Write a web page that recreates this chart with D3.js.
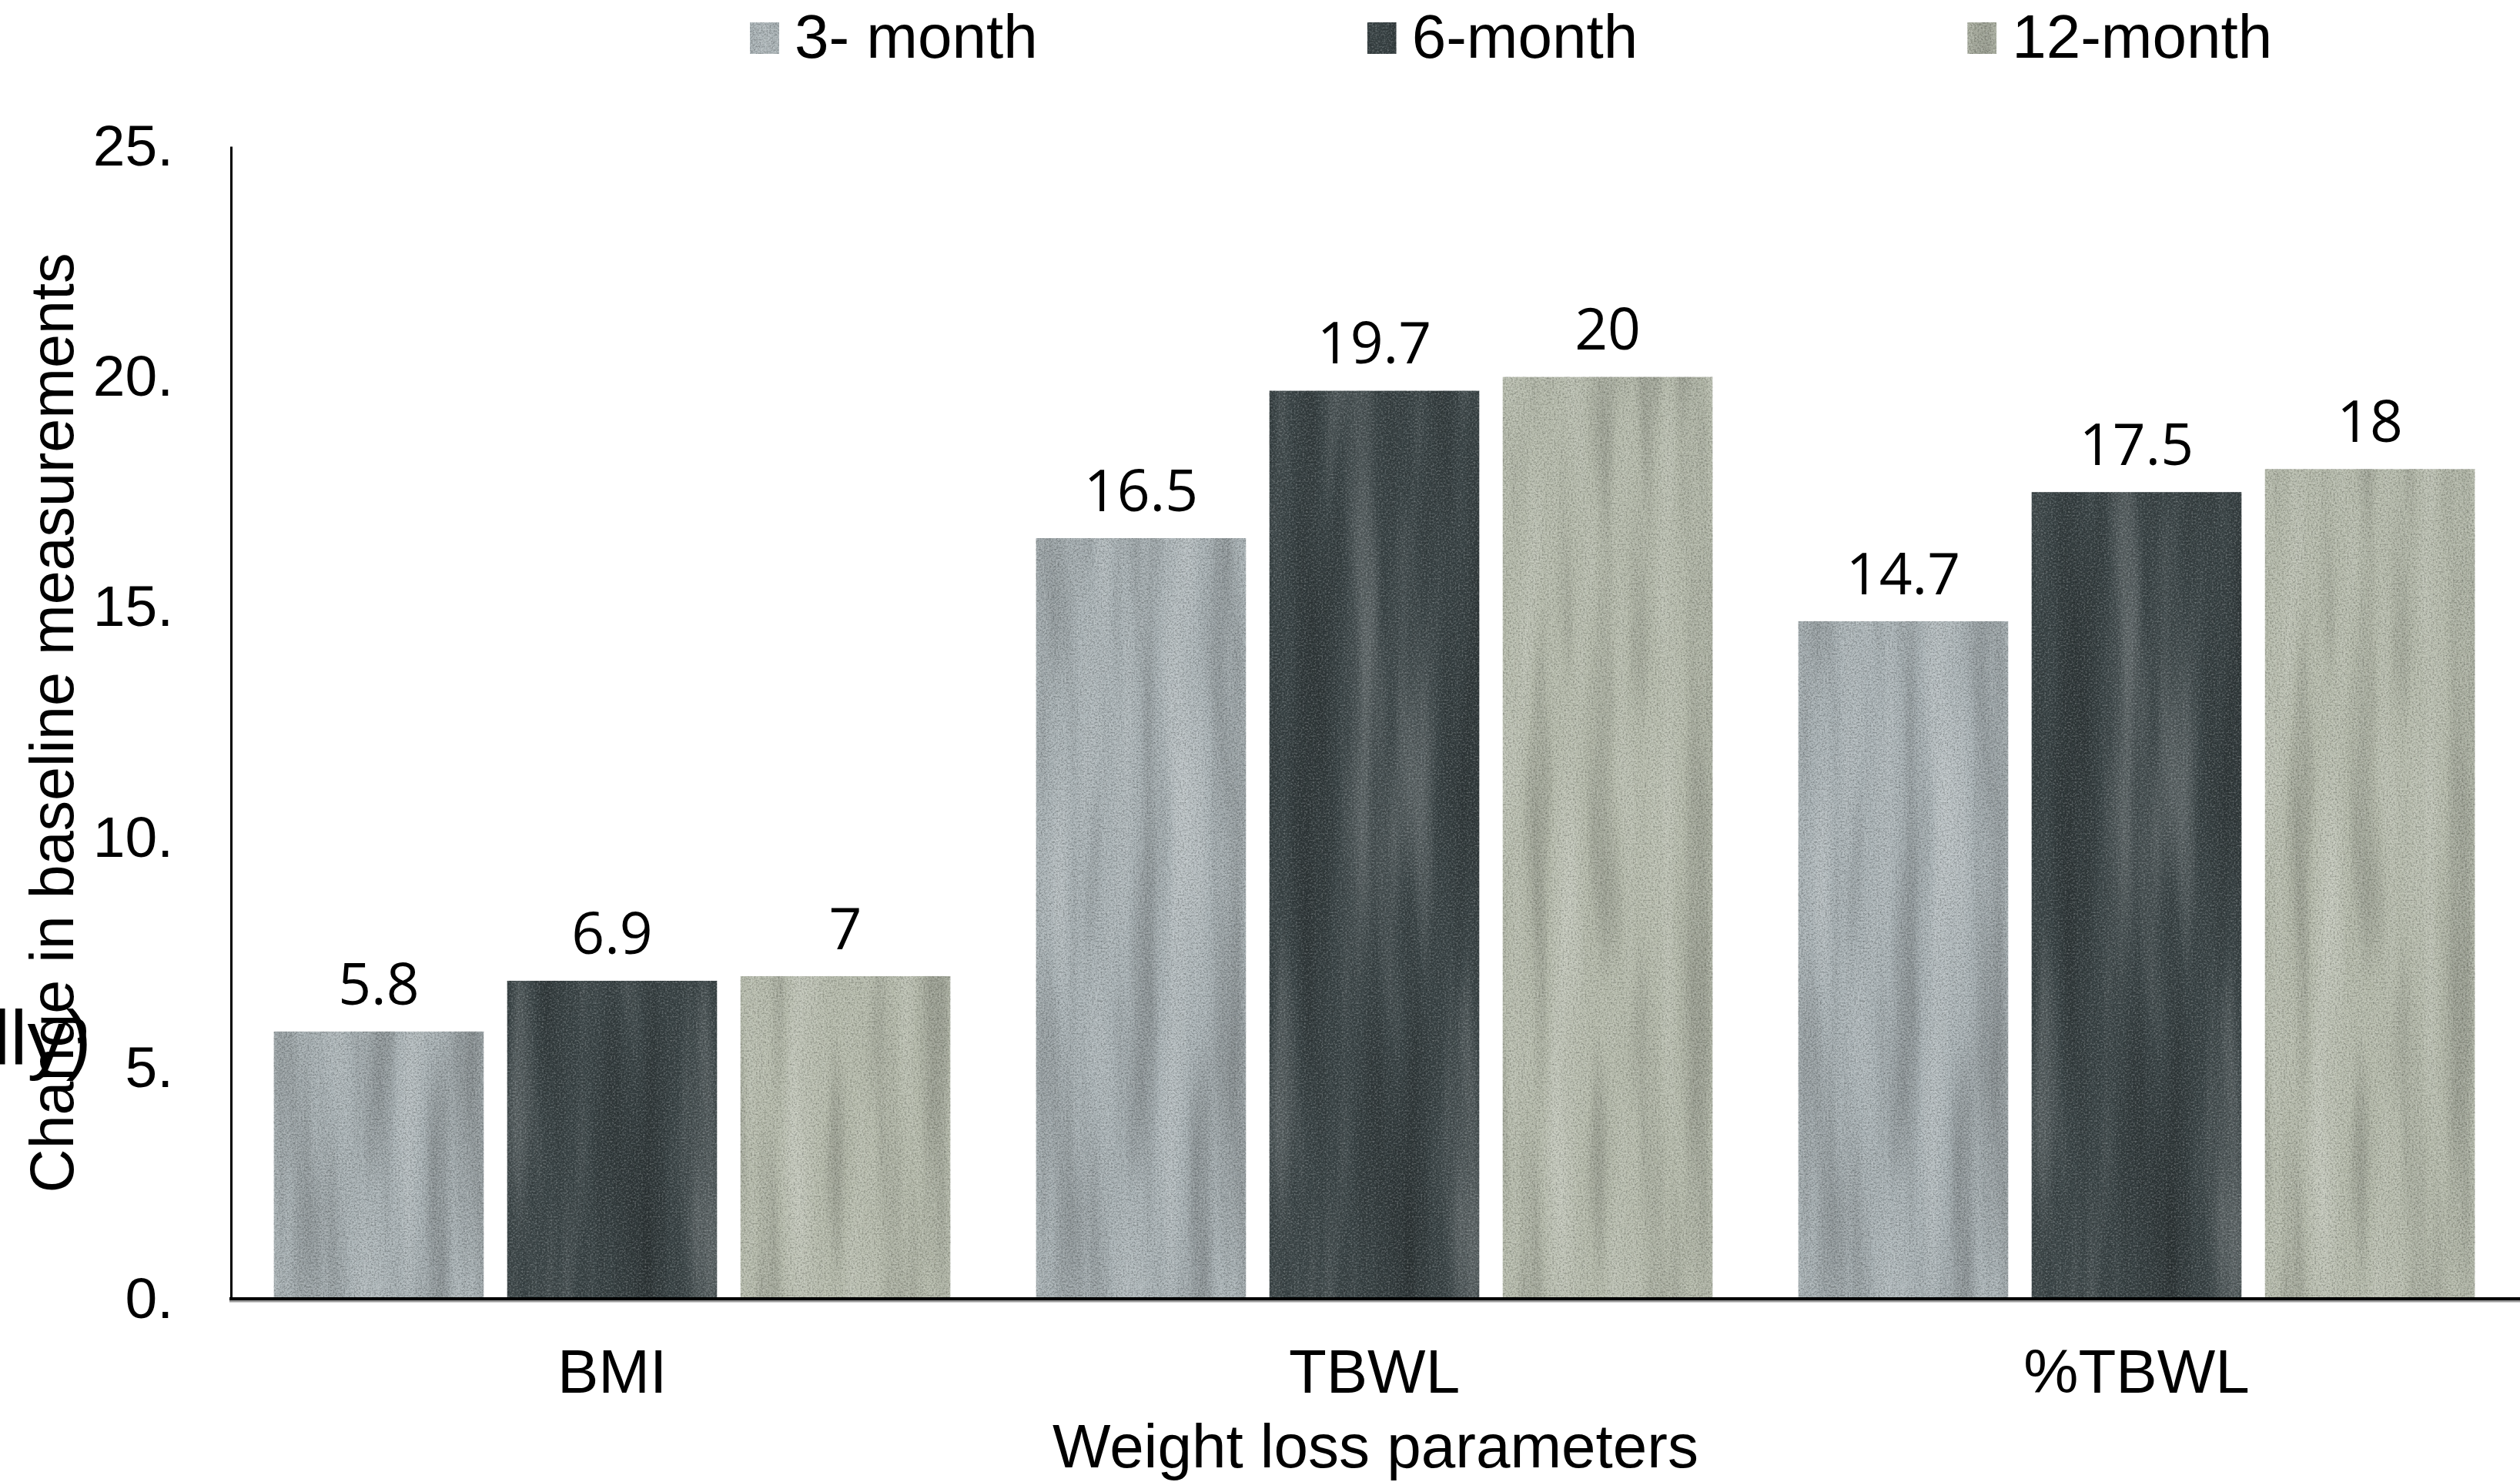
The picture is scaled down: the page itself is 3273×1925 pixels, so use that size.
<!DOCTYPE html>
<html>
<head>
<meta charset="utf-8">
<script src="https://cdn.jsdelivr.net/npm/d3@7"></script>
<style>
  html, body { margin: 0; padding: 0; background: #fff; }
  svg { display: block; }
  text { font-family: "Liberation Sans", Arial, sans-serif; fill: #000; }
  .val { font-family: "Open Sans", "Noto Sans", sans-serif; }
</style>
</head>
<body>
<script>
// Weight loss outcomes at 3, 6 and 12 months
const categories = ["BMI", "TBWL", "%TBWL"];
const seriesNames = ["3- month", "6-month", "12-month"];
const month3 = [5.8, 16.5, 14.7];
const month6 = [6.9, 19.7, 17.5];
const month12 = [7, 20, 18];
const yTicks = [0, 5, 10, 15, 20, 25];
const seriesValues = [month3, month6, month12];

// concrete-like base tones for each series
const baseColors = ["#aab3b6", "#3b4547", "#b5baab"];
const speckleOpacity = [0.6, 0.3, 0.35];

const W = 3273, H = 1925;
const margin = { left: 300, right: 3, top: 190, bottom: 1687 };

const svg = d3.select("body").append("svg")
  .attr("width", W).attr("height", H);

// matrix that turns a noise channel into a black or white veil
// whose opacity follows how far the noise strays from its mean
function veil(shade, k) {
  const s = shade ? 1 : 0;
  const sign = shade ? 1 : -1;
  return [
    0, 0, 0, 0, s,
    0, 0, 0, 0, s,
    0, 0, 0, 0, s,
    sign * k, 0, 0, 0, -sign * k * 0.5
  ].join(" ");
}

// ---- textures ----
const defs = svg.append("defs");
const seeds = [4, 11, 23];
baseColors.forEach((c, i) => {
  const f = defs.append("filter")
    .attr("id", "concrete" + i)
    .attr("filterUnits", "userSpaceOnUse")
    .attr("x", 0).attr("y", 0).attr("width", W).attr("height", H)
    .attr("color-interpolation-filters", "sRGB");
  // long vertical streaks
  f.append("feTurbulence")
    .attr("type", "fractalNoise")
    .attr("baseFrequency", "0.018 0.0016")
    .attr("numOctaves", 3).attr("seed", seeds[i]).attr("result", "streak");
  f.append("feColorMatrix").attr("in", "streak").attr("type", "matrix")
    .attr("values", veil(false, 0.6)).attr("result", "streakDark");
  f.append("feColorMatrix").attr("in", "streak").attr("type", "matrix")
    .attr("values", veil(true, 0.6)).attr("result", "streakLight");
  // fine grain
  f.append("feTurbulence")
    .attr("type", "fractalNoise")
    .attr("baseFrequency", "0.45")
    .attr("numOctaves", 2).attr("seed", seeds[i] + 7).attr("result", "grain");
  f.append("feColorMatrix").attr("in", "grain").attr("type", "matrix")
    .attr("values", veil(false, 0.7)).attr("result", "grainDark");
  f.append("feColorMatrix").attr("in", "grain").attr("type", "matrix")
    .attr("values", veil(true, 0.7)).attr("result", "grainLight");
  // small dark pits in the surface
  f.append("feTurbulence")
    .attr("type", "turbulence")
    .attr("baseFrequency", "0.35")
    .attr("numOctaves", 1).attr("seed", seeds[i] + 31).attr("result", "pitsRaw");
  f.append("feColorMatrix")
    .attr("in", "pitsRaw").attr("type", "matrix")
    .attr("values", [
      0, 0, 0, 0, 0.2,
      0, 0, 0, 0, 0.22,
      0, 0, 0, 0, 0.22,
      -9, 0, 0, 0, 0.25
    ].join(" "))
    .attr("result", "pitsA");
  f.append("feComponentTransfer")
    .attr("in", "pitsA").attr("result", "pits")
    .append("feFuncA").attr("type", "linear")
    .attr("slope", speckleOpacity[i]).attr("intercept", 0);
  const merge = f.append("feMerge").attr("result", "surface");
  ["SourceGraphic", "streakDark", "streakLight", "grainDark", "grainLight", "pits"]
    .forEach(n => merge.append("feMergeNode").attr("in", n));
  f.append("feComposite")
    .attr("in", "surface").attr("in2", "SourceGraphic")
    .attr("operator", "in");
});

// ---- scales ----
const x0 = d3.scaleBand()
  .domain(categories)
  .range([margin.left, W - margin.right])
  .paddingInner(0.112)
  .paddingOuter(0.056);

const x1 = d3.scaleBand()
  .domain(seriesNames)
  .range([0, x0.bandwidth()])
  .paddingInner(0.099)
  .paddingOuter(0);

const y = d3.scaleLinear()
  .domain([0, 25])
  .range([margin.bottom, margin.top]);

// ---- bars ----
const groups = svg.append("g").selectAll("g")
  .data(categories)
  .join("g")
  .attr("transform", d => `translate(${x0(d)},0)`);

groups.selectAll("rect")
  .data((d, ci) => seriesNames.map((s, si) => ({ s, si, v: seriesValues[si][ci] })))
  .join("rect")
  .attr("x", d => x1(d.s))
  .attr("y", d => y(d.v))
  .attr("width", x1.bandwidth())
  .attr("height", d => y(0) - y(d.v))
  .attr("fill", d => baseColors[d.si])
  .attr("filter", d => `url(#concrete${d.si})`);

groups.selectAll("text.val")
  .data((d, ci) => seriesNames.map((s, si) => ({ s, si, v: seriesValues[si][ci] })))
  .join("text")
  .attr("class", "val")
  .attr("x", d => x1(d.s) + x1.bandwidth() / 2)
  .attr("y", d => y(d.v) - 35)
  .attr("text-anchor", "middle")
  .style("font-size", "75px")
  .text(d => d.v);

// ---- y axis ----
const yAxis = svg.append("g")
  .attr("transform", `translate(${margin.left},0)`)
  .call(d3.axisLeft(y).tickValues(yTicks).tickFormat(d => d + ".")
    .tickSize(0).tickPadding(75));
yAxis.select(".domain").attr("stroke", "#000").attr("stroke-width", 3);
yAxis.selectAll("text").style("font-size", "75px").attr("fill", "#000");

// ---- x axis ----
const xAxis = svg.append("g")
  .attr("transform", `translate(0,${margin.bottom})`)
  .call(d3.axisBottom(x0).tickSize(0).tickPadding(65));
xAxis.select(".domain").remove();
xAxis.selectAll("text").style("font-size", "80px").attr("fill", "#000");

// baseline with a soft grey edge under it
svg.append("line")
  .attr("x1", margin.left - 2).attr("x2", W)
  .attr("y1", margin.bottom + 3).attr("y2", margin.bottom + 3)
  .attr("stroke", "#9a9a9a").attr("stroke-width", 3);
svg.append("line")
  .attr("x1", margin.left - 2).attr("x2", W)
  .attr("y1", margin.bottom).attr("y2", margin.bottom)
  .attr("stroke", "#000").attr("stroke-width", 4);

// ---- axis titles ----
svg.append("text")
  .attr("x", (margin.left + W) / 2)
  .attr("y", 1906)
  .attr("text-anchor", "middle")
  .style("font-size", "80px")
  .text("Weight loss parameters");

svg.append("text")
  .attr("transform", `translate(95,939) rotate(-90)`)
  .attr("text-anchor", "middle")
  .style("font-size", "79px")
  .text("Change in baseline measurements");

// unit fragment beside the y title
svg.append("text")
  .attr("x", -9).attr("y", 1383)
  .style("font-size", "100px")
  .text("lly)");

// ---- legend ----
const legend = svg.append("g");
let lx = 974;
seriesNames.forEach((s, i) => {
  const item = legend.append("g");
  item.append("rect")
    .attr("x", lx).attr("y", 29)
    .attr("width", 38).attr("height", 41)
    .attr("fill", baseColors[i])
    .attr("filter", `url(#concrete${i})`);
  const t = item.append("text")
    .attr("x", lx + 58).attr("y", 75)
    .style("font-size", "80px")
    .text(s);
  const w = t.node().getComputedTextLength();
  lx = lx + 58 + w + 428;
});
</script>
</body>
</html>
